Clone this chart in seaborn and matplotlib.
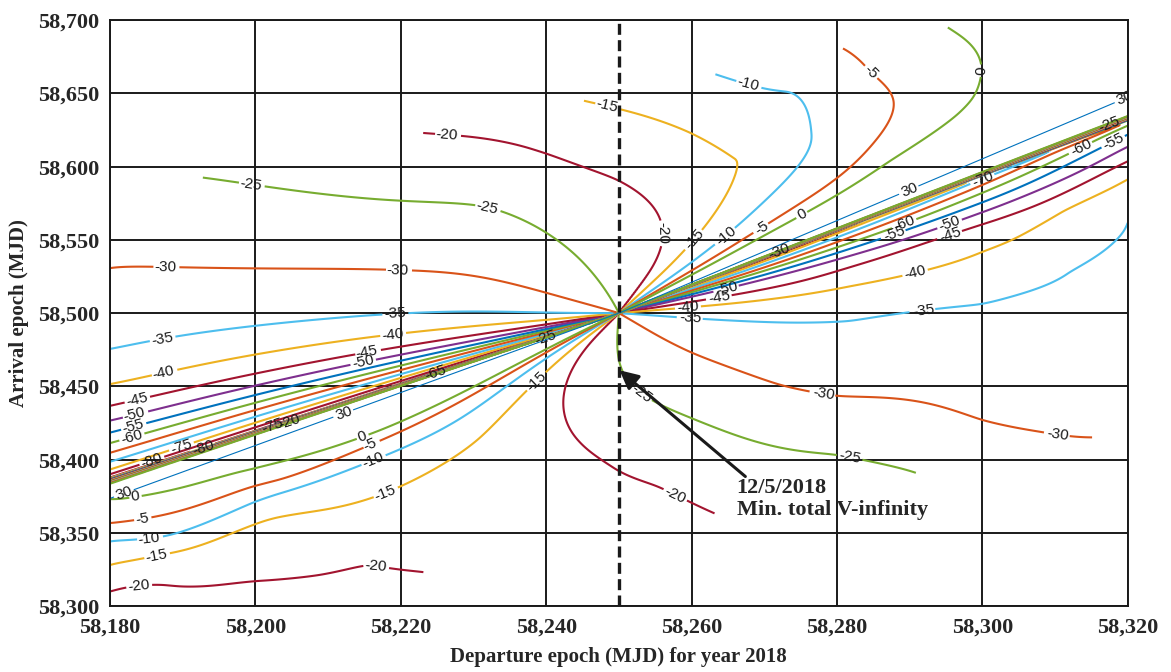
import numpy as np
import matplotlib
matplotlib.use("Agg")
import matplotlib.pyplot as plt
from matplotlib.ticker import FuncFormatter
import seaborn as sns

sns.set_theme(style="white")
plt.rcParams["font.family"] = ["Liberation Sans", "DejaVu Sans"]

# axes
dep_lim = (58180, 58320)
arr_lim = (58300, 58700)
dep_ticks = list(range(58180, 58321, 20))
arr_ticks = list(range(58300, 58701, 50))

# grid of the porkchop: time of flight between 100 and 400 days
tof_limits = (100, 400)
# departure / arrival where all the contours meet
center = (58250, 58500)
# screen pixels per day on each axis (directions below are measured on screen)
px_per_day = (7.27, 1.465)

# contour levels and their line colours
levels = [-80, -75, -70, -65, -60, -55, -50, -45, -40, -35, -30, -25, -20, -15, -10, -5, 0]
level_colors = ["#A2142F", "#EDB120", "#4DBEEE", "#D95319", "#77AC30", "#0072BD", "#7E2F8E",
                "#A2142F", "#EDB120", "#4DBEEE", "#D95319", "#77AC30", "#A2142F", "#EDB120",
                "#4DBEEE", "#D95319", "#77AC30"]

# direction (deg, counter-clockwise from +x on screen) in which each contour leaves the centre
ray_angle = [21.4, 28, 30.5, 35, 43, 53, 118, 164, 180, 185.6, 189, 191, 192.5, 193.7, 194.8,
             195.8, 196.7, 197.4, 197.8,
             198.6, 206, 208, 211, 217, 226, 268, 332, 357, 365, 369, 372.8, 374.5, 376, 377.2,
             378.4, 379.4, 380.2, 380.6]
ray_value = [10, 0, -5, -10, -15, -20, -25, -30, -35, -40, -45, -50, -55, -60, -65, -70, -75, -80, -85,
             10, 0, -5, -10, -15, -20, -25, -30, -35, -40, -45, -50, -55, -60, -65, -70, -75, -80, -85]

# values read along the contour lines away from the centre
# upper-left half (above the bundle)
upper_dep = [58192.4, 58221.9, 58244.4, 58262.9, 58279.7, 58294.8, 58277.4, 58254.3, 58254.7,
             58265.7, 58288.2, 58299.0, 58287.3, 58180.0, 58180.0, 58180.0, 58180.0, 58231.6,
             58241.5, 58219.6, 58215.8, 58240.1, 58249.7, 58259.8, 58270.4, 58283.6, 58299.2,
             58180.0, 58180.0]
upper_arr = [58592.8, 58622.9, 58645.4, 58663.8, 58679.5, 58695.2, 58618.1, 58575.1, 58531.4,
             58592.8, 58645.4, 58645.4, 58604.4, 58532.8, 58474.7, 58452.2, 58435.8, 58573.7,
             58549.8, 58529.4, 58498.6, 58609.2, 58592.2, 58623.5, 58652.2, 58672.7, 58659.0,
             58427.6, 58418.1]
upper_val = [-25, -20, -15, -10, -5, 0, -10, -20, -20, -15, -5, 0, 0, -30, -35, -40, -45, -25,
             -25, -30, -35, -20, -20, -15, -10, -5, 0, -50, -55]
# lower-right half (below the bundle)
lower_dep = [58318.9, 58300.1, 58281.8, 58316.1, 58292.1, 58263.2, 58318.2, 58319.9, 58180.0,
             58180.0, 58180.0, 58180.0, 58180.0, 58227.4, 58199.7, 58217.8, 58199.7, 58230.9,
             58216.2, 58199.7, 58199.7, 58199.7, 58242.3, 58244.6, 58255.6, 58250.1, 58259.8,
             58280.0, 58259.8, 58280.0, 58307.9, 58281.8, 58300.1, 58309.3, 58281.8, 58302.0,
             58246.3, 58320.0, 58320.0, 58189.6, 58208.9, 58221.3, 58272.2, 58299.7,
             58210.3, 58192.4]
lower_arr = [58554.6, 58502.7, 58491.1, 58415.4, 58392.8, 58363.5, 58586.0, 58604.4, 58363.5,
             58356.7, 58348.5, 58334.8, 58306.1, 58326.6, 58317.7, 58377.1, 58354.6, 58413.3,
             58399.7, 58372.4, 58384.6, 58390.8, 58440.6, 58413.3, 58386.0, 58461.1, 58429.0,
             58406.5, 58472.7, 58440.6, 58420.1, 58519.1, 58545.1, 58563.5, 58531.4, 58563.5,
             58481.6, 58454.3, 58508.9, 58310.9, 58320.5, 58323.9, 58449.5, 58424.9,
             58343.7, 58329.4]
lower_val = [-35, -35, -35, -30, -25, -20, -40, -45, 0, -5, -10, -15, -20, -20, -20, -15, -15, -15,
             -10, -10, -5, 0, -20, -20, -20, -25, -25, -25, -30, -30, -30, -40, -40, -40, -45, -45,
             -20, -31.5, -33.5, -20, -20, -20, -30, -30,
             -17.5, -17.5]

# contour labels: position and the level they belong to
label_dep = [58226.3, 58248.3, 58267.7, 58284.9, 58299.4, 58199.5, 58231.6, 58187.6, 58219.6,
             58187.3, 58219.2, 58187.3, 58218.9, 58183.7, 58215.3, 58183.4, 58214.8, 58183.2,
             58183.0, 58189.6, 58185.5, 58202.4, 58192.8,
             58254.5, 58260.5, 58264.9, 58269.7, 58275.2, 58259.8, 58292.1, 58259.5, 58290.7,
             58263.9, 58295.5, 58264.9, 58287.7, 58289.1, 58313.4, 58318.5, 58317.5, 58295.5,
             58278.1, 58310.4, 58281.8, 58258.1, 58252.9,
             58186.2, 58217.8, 58185.2, 58216.2, 58184.4, 58215.8, 58183.7, 58214.7, 58184.1,
             58216.4, 58239.1,
             58225.0, 58240.0, 58272.0, 58300.0, 58205.0]
label_arr = [58619.5, 58640.6, 58654.3, 58665.9, 58665.9, 58590.1, 58568.3, 58534.1, 58529.4,
             58480.2, 58497.3, 58459.0, 58483.6, 58440.6, 58472.7, 58429.0, 58466.6, 58422.2,
             58415.4, 58411.9, 58403.1, 58423.5, 58408.5,
             58554.6, 58549.8, 58551.9, 58558.0, 58566.9, 58493.9, 58495.2, 58504.1, 58529.4,
             58510.9, 58554.6, 58517.1, 58556.7, 58563.5, 58614.7, 58613.3, 58628.3, 58561.4,
             58440.6, 58418.1, 58402.4, 58379.2, 58444.0,
             58339.6, 58377.1, 58354.6, 58399.7, 58362.1, 58409.9, 58366.9, 58415.4, 58308.2,
             58322.5, 58450.9,
             58457.0, 58482.0, 58542.0, 58592.0, 58421.0]
label_val = [-20, -15, -10, -5, 0, -25, -25, -30, -30,
             -35, -35, -40, -40, -45, -45, -50, -50, -55,
             -60, -75, -80, -75, -80,
             -20, -15, -10, -5, 0, -35, -35, -40, -40,
             -45, -45, -50, -55, -60, -60, -55, -25, -50,
             -30, -30, -25, -20, -25,
             -15, -15, -10, -10, -5, -5, 0, 0, -20,
             -20, -15,
             -65, -25, -30, -70, -20]

# thin blue "30" line: directions on both sides of the centre, and its labels
c3_level = 30
c3_angle = [23.0, 200.0]
c3_label_dep = [58290.0, 58319.2, 58181.4, 58212.3]
c3_label_arr = [58584.0, 58650.9, 58383.9, 58430.4]

# marked minimum
min_point = (58250.1, 58461.0)
min_text_pos = (58266.2, 58387.5)
min_text = "12/5/2018\nMin. total V-infinity"


def pchip(x, xp, fp):
    # monotone cubic through the table (avoids kinks on the break rays)
    xp = np.asarray(xp, float)
    fp = np.asarray(fp, float)
    h = np.diff(xp)
    delta = np.diff(fp) / h
    d = np.zeros_like(fp)
    for k in range(1, len(fp) - 1):
        if delta[k - 1] * delta[k] > 0:
            w1 = 2 * h[k] + h[k - 1]
            w2 = h[k] + 2 * h[k - 1]
            d[k] = (w1 + w2) / (w1 / delta[k - 1] + w2 / delta[k])
    d[0], d[-1] = delta[0], delta[-1]
    i = np.clip(np.searchsorted(xp, x) - 1, 0, len(h) - 1)
    t = (x - xp[i]) / h[i]
    t2, t3 = t * t, t * t * t
    return ((2 * t3 - 3 * t2 + 1) * fp[i] + (t3 - 2 * t2 + t) * h[i] * d[i]
            + (-2 * t3 + 3 * t2) * fp[i + 1] + (t3 - t2) * h[i] * d[i + 1])


# periodic table (one extra point on each side)
ang_tab = np.array([ray_angle[-1] - 360.0] + ray_angle + [ray_angle[0] + 360.0, ray_angle[1] + 360.0])
val_tab = np.array([ray_value[-1]] + ray_value + [ray_value[0], ray_value[1]], dtype=float)


def ray_field(th):
    return pchip(th, ang_tab, val_tab)


def screen_polar(dep, arr, start):
    u = (np.asarray(dep, float) - center[0]) * px_per_day[0]
    v = (np.asarray(arr, float) - center[1]) * px_per_day[1]
    th = np.degrees(np.arctan2(v, u)) % 360.0
    th = np.where(th < start, th + 360.0, th)
    return u, v, th


def kernel(r):
    with np.errstate(divide="ignore", invalid="ignore"):
        k = r * r * np.log(r)
    return np.where(r > 0, k, 0.0)


def fit_side(deps, arrs, vals, smooth):
    # thin-plate correction on top of the pure direction field
    u, v, th = screen_polar(deps, arrs, ray_angle[0])
    d = np.asarray(vals, float) - ray_field(th)
    P = np.column_stack([np.r_[u, 0.0], np.r_[v, 0.0]]) / 100.0
    d = np.r_[d, 0.0]
    n = len(d)
    r = np.hypot(P[:, None, 0] - P[None, :, 0], P[:, None, 1] - P[None, :, 1])
    K = kernel(r) + smooth * np.eye(n)
    Q = np.column_stack([np.ones(n), P])
    M = np.block([[K, Q], [Q.T, np.zeros((3, 3))]])
    sol = np.linalg.solve(M, np.r_[d, np.zeros(3)])
    return P, sol[:n], sol[n:]


def eval_side(model, u, v):
    P, w, a = model
    U, V = u / 100.0, v / 100.0
    out = a[0] + a[1] * U + a[2] * V
    for (pu, pv), wi in zip(P, w):
        out = out + wi * kernel(np.hypot(U - pu, V - pv))
    return out


model_up = fit_side(upper_dep, upper_arr, upper_val, 0.15)
model_lo = fit_side(lower_dep, lower_arr, lower_val, 0.3)

dep = np.linspace(dep_lim[0], dep_lim[1], 561)
arr = np.linspace(arr_lim[0], arr_lim[1], 801)
D, A = np.meshgrid(dep, arr)
u, v, th = screen_polar(D, A, ray_angle[0])

# blend the two halves across the bundle
a0, a1 = ray_angle[18], ray_angle[19]
b0, b1 = ray_angle[-1], ray_angle[0] + 360.0
w_lo = np.clip((th - a0) / (a1 - a0), 0, 1) - np.clip((th - b0) / (b1 - b0), 0, 1)
Z = ray_field(th) + (1 - w_lo) * eval_side(model_up, u, v) + w_lo * eval_side(model_lo, u, v)

tof = A - D
outside = (tof < tof_limits[0]) | (tof > tof_limits[1])
Z = np.ma.masked_where(outside, Z)

# C3-like field that crosses 30 only along the thin line
_, _, th_c = screen_polar(D, A, c3_angle[0])
G = np.interp(th_c,
              [c3_angle[0], (c3_angle[0] + c3_angle[1]) / 2, c3_angle[1],
               (c3_angle[1] + c3_angle[0] + 360) / 2, c3_angle[0] + 360],
              [c3_level, 0, c3_level, 2 * c3_level, c3_level])
G = np.ma.masked_where(outside, G)

fig, ax = plt.subplots(figsize=(11.71, 6.72), dpi=100)
fig.subplots_adjust(left=0.094, right=0.963, bottom=0.098, top=0.970)
ax.set_facecolor("white")

lab_dep = np.array(label_dep)
lab_arr = np.array(label_arr)
lab_val = np.array(label_val)
for lev, col in zip(levels, level_colors):
    cs = ax.contour(D, A, Z, levels=[lev], colors=[col], linewidths=1.5,
                    linestyles="solid", zorder=2)
    sel = lab_val == lev
    if sel.any():
        ax.clabel(cs, fmt="%d", fontsize=11, inline=True, inline_spacing=2, colors="k",
                  manual=list(zip(lab_dep[sel], lab_arr[sel])))

cs2 = ax.contour(D, A, G, levels=[c3_level], colors="#0072BD", linewidths=0.8,
                 linestyles="solid", zorder=2)
ax.clabel(cs2, fmt="%d", fontsize=11, inline=True, inline_spacing=2, colors="k",
          manual=list(zip(c3_label_dep, c3_label_arr)))

ax.axvline(center[0], color="k", lw=2.4, ls=(0, (3.3, 1.6)), zorder=4)

ax.annotate("", xy=min_point, xytext=(min_text_pos[0] + 1.2, min_text_pos[1] + 1),
            arrowprops=dict(arrowstyle="-|>", lw=2.2, color="k", mutation_scale=28,
                            shrinkA=0, shrinkB=0), zorder=5)
ax.text(min_text_pos[0], min_text_pos[1], min_text, ha="left", va="top",
        fontsize=16, fontweight="bold", family="Liberation Serif", linespacing=1.15, zorder=5)

ax.set_xlim(*dep_lim)
ax.set_ylim(*arr_lim)
ax.set_xticks(dep_ticks)
ax.set_yticks(arr_ticks)
fmt = FuncFormatter(lambda val, pos: f"{val:,.0f}")
ax.xaxis.set_major_formatter(fmt)
ax.yaxis.set_major_formatter(fmt)
ax.grid(True, color="#1a1a1a", lw=1.4, zorder=1)
ax.set_axisbelow(True)
ax.tick_params(length=0, labelsize=16, pad=8)
for lab in ax.get_xticklabels() + ax.get_yticklabels():
    lab.set_fontfamily("Liberation Serif")
    lab.set_fontweight("bold")
for sp in ax.spines.values():
    sp.set_color("#1a1a1a")
    sp.set_linewidth(1.4)

ax.set_xlabel("Departure epoch (MJD) for year 2018", fontsize=15, fontweight="bold",
              family="Liberation Serif", labelpad=7)
ax.set_ylabel("Arrival epoch (MJD)", fontsize=15, fontweight="bold",
              family="Liberation Serif", labelpad=6)

fig.savefig("out.png", dpi=100)
